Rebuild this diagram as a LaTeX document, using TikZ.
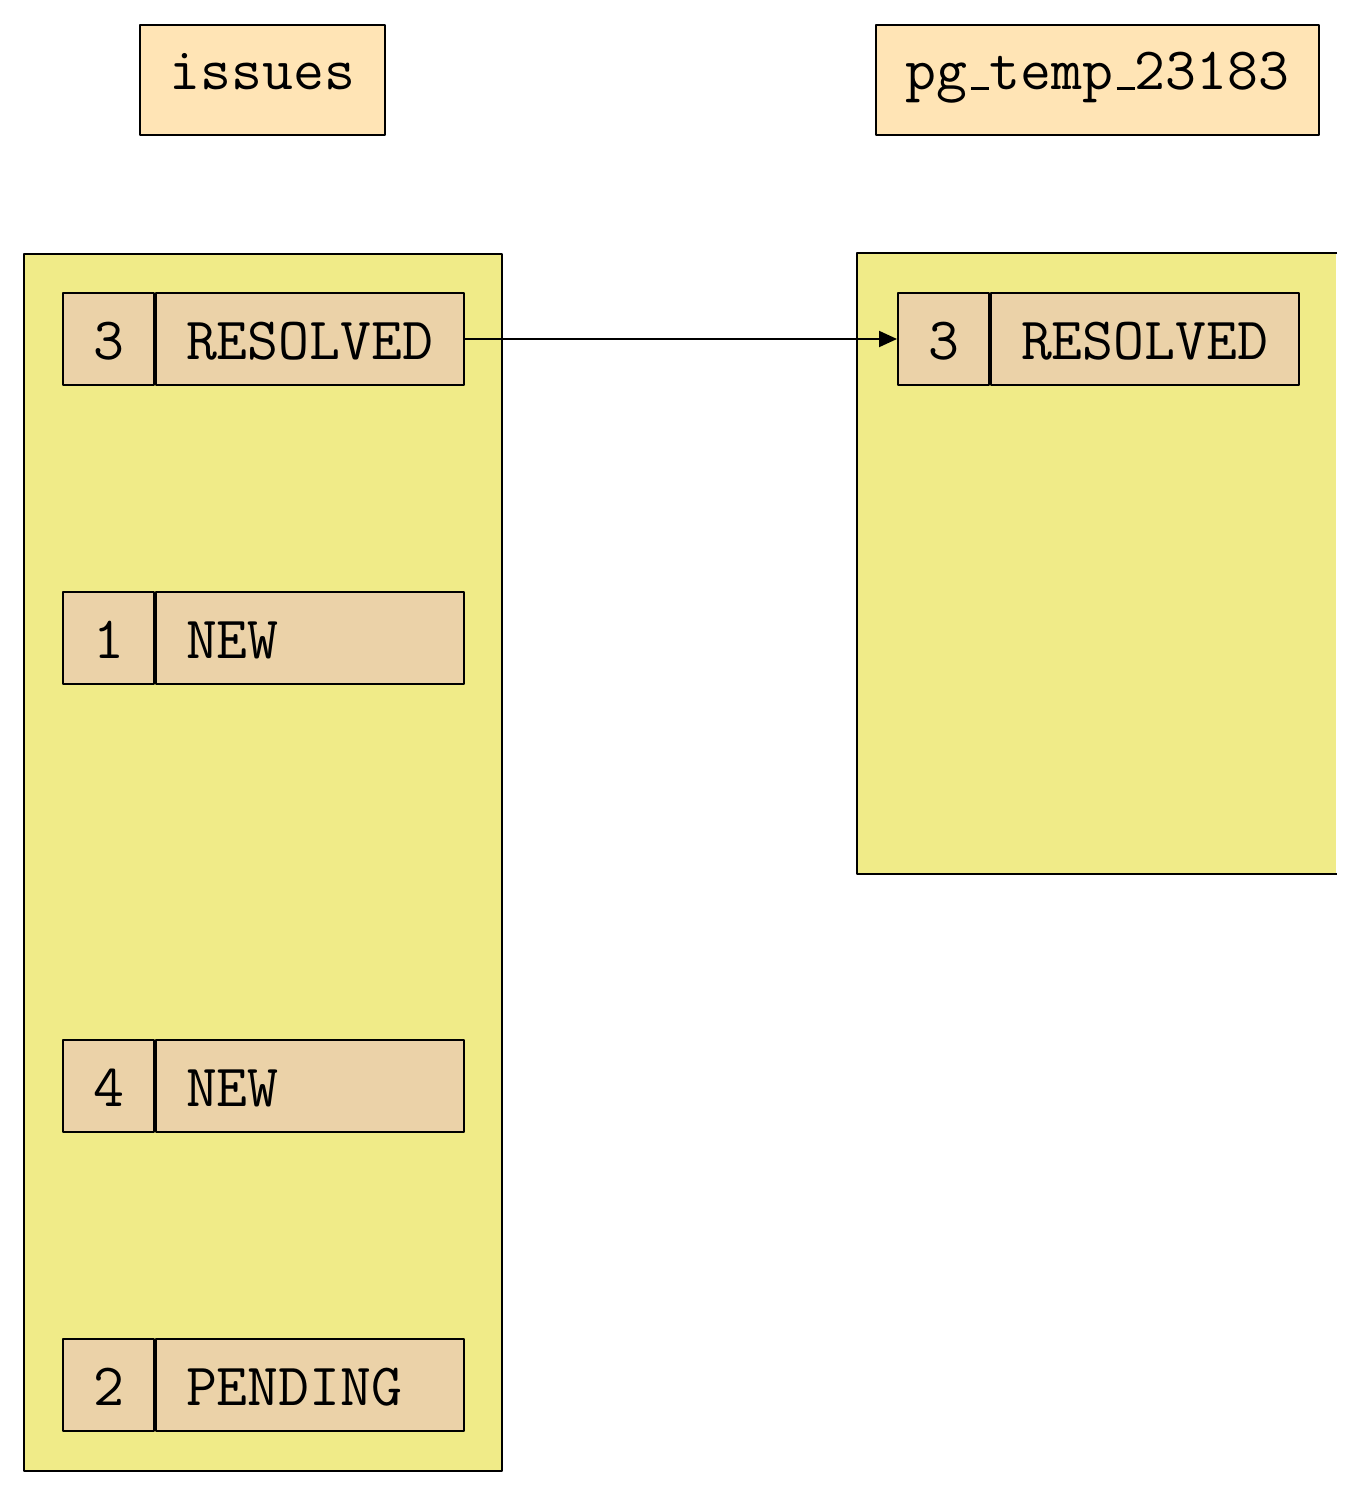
\documentclass[tikz,border=0pt]{standalone}
\usetikzlibrary{arrows.meta}
\definecolor{hdrfill}{HTML}{FFE4B5}
\definecolor{panelfill}{HTML}{F0EB88}
\definecolor{recfill}{HTML}{EBD2A8}
\newcommand\ulbar{\kern.06em\vbox{\hrule height 2.5pt width .3em}}
\begin{document}
\begin{tikzpicture}[x=1pt,y=-1pt,line width=2pt,line join=round,
  font=\fontsize{60}{72}\selectfont\ttfamily,
  hdr/.style={draw,fill=hdrfill,inner sep=0pt,minimum height=110pt,text height=30pt,text depth=10pt},
  panel/.style={fill=panelfill,inner sep=0pt,minimum width=478pt},
  reckey/.style={draw,fill=recfill,inner sep=0pt,minimum width=91pt,minimum height=92pt,text height=40pt,text depth=0pt},
  recval/.style={draw,fill=recfill,inner sep=0pt,minimum width=308pt,minimum height=92pt,text height=40pt,text depth=0pt,text width=256pt,align=left},
  link/.style={-{Triangle[length=18pt,width=16pt]}}]
\useasboundingbox (0,0) rectangle (1345,1495);
% headers
\node[hdr,minimum width=245pt] (h1) at (262.5,80) {issues};
\node[hdr,minimum width=443pt] (h2) at (1097.5,80) {pg\ulbar temp\ulbar 23183};
% panels
\node[panel,draw,minimum height=1217pt] (p1) at (263,862.5) {};
\node[panel,minimum height=619pt] (p2) at (1097,563.5) {};
\draw (p2.north east) -- (p2.north west) -- (p2.south west) -- (p2.south east);
% left records
\node[reckey] (k1) at (108.5,339) {3};
\node[recval,anchor=west] (v1) at (k1.east) {\hspace*{4pt}RESOLVED};
\node[reckey] (k2) at (108.5,638) {1};
\node[recval,anchor=west] (v2) at (k2.east) {\hspace*{4pt}NEW};
\node[reckey] (k3) at (108.5,1086) {4};
\node[recval,anchor=west] (v3) at (k3.east) {\hspace*{4pt}NEW};
\node[reckey] (k4) at (108.5,1385) {2};
\node[recval,anchor=west] (v4) at (k4.east) {\hspace*{4pt}PENDING};
% right record
\node[reckey] (rk1) at (943.5,339) {3};
\node[recval,anchor=west] (rv1) at (rk1.east) {\hspace*{4pt}RESOLVED};
% connector
\draw[link] ([xshift=-2pt]v1.east) -- (rk1.west);
\end{tikzpicture}
\end{document}
